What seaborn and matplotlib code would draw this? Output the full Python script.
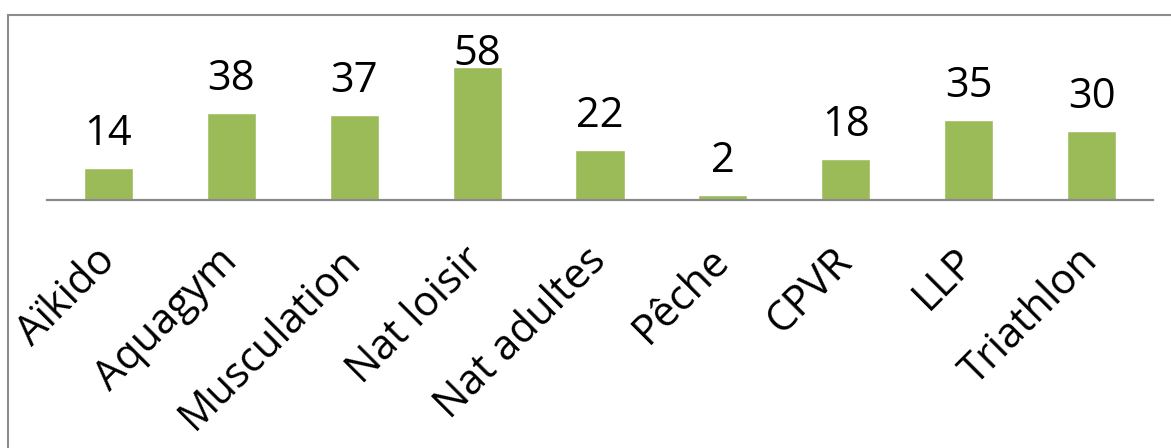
import matplotlib
matplotlib.use("Agg")
import matplotlib.pyplot as plt
import matplotlib.transforms as mtransforms
from matplotlib.patches import Rectangle
import seaborn as sns

categories = ["Aïkido", "Aquagym", "Musculation", "Nat loisir", "Nat adultes",
              "Pêche", "CPVR", "LLP", "Triathlon"]
values = [14, 38, 37, 58, 22, 2, 18, 35, 30]

sns.set_theme(style="white")
plt.rcParams["font.family"] = ["Open Sans", "DejaVu Sans"]

W, H = 1171, 448
DPI = 100
fig = plt.figure(figsize=(W / DPI, H / DPI), dpi=DPI)
fig.patch.set_facecolor("white")

left, right, bottom, top = 47, 1153, 200, 40
ax = fig.add_axes([left / W, (H - bottom) / H, (right - left) / W, (bottom - top) / H])

sns.barplot(x=categories, y=values, color="#9BBB59", saturation=1, width=0.4, ax=ax)

ymax = 70
ax.set_ylim(0, ymax)
ax.set_xlim(-0.5, len(categories) - 0.5)
for s in ["top", "right", "left"]:
    ax.spines[s].set_visible(False)
ax.spines["bottom"].set_color("#8a8a8a")
ax.spines["bottom"].set_linewidth(1.6)
ax.set_yticks([])
ax.set_ylabel("")
ax.set_xlabel("")
FS = 30
ax.tick_params(axis="x", length=0, pad=45)
ax.set_xticks(range(len(categories)))
ax.set_xticklabels(categories, rotation=45, ha="right", va="baseline",
                   rotation_mode="anchor", fontsize=FS, color="black")
offset = mtransforms.ScaledTranslation(8 / DPI, 0, fig.dpi_scale_trans)
for lbl in ax.get_xticklabels():
    lbl.set_transform(lbl.get_transform() + offset)

# value labels: 23 px above bar, but kept inside the chart area (baseline >= 65 px from top)
px_per_unit = (bottom - top) / ymax
for i, v in enumerate(values):
    bar_top_px = bottom - v * px_per_unit
    gap_px = min(23, bar_top_px - 65)
    ax.annotate(str(v), xy=(i, v), xytext=(0, gap_px * 72 / DPI), textcoords="offset points",
                ha="center", va="baseline", fontsize=FS, color="black",
                annotation_clip=False)

# outer chart border (extends past right and bottom edges)
rect = Rectangle((8 / W, -0.1), 1.2, (H - 15) / H + 0.1, transform=fig.transFigure,
                 fill=False, edgecolor="#8c8c8c", linewidth=1.5, clip_on=False)
fig.patches.append(rect)

fig.savefig("out.png", dpi=DPI, facecolor="white")
